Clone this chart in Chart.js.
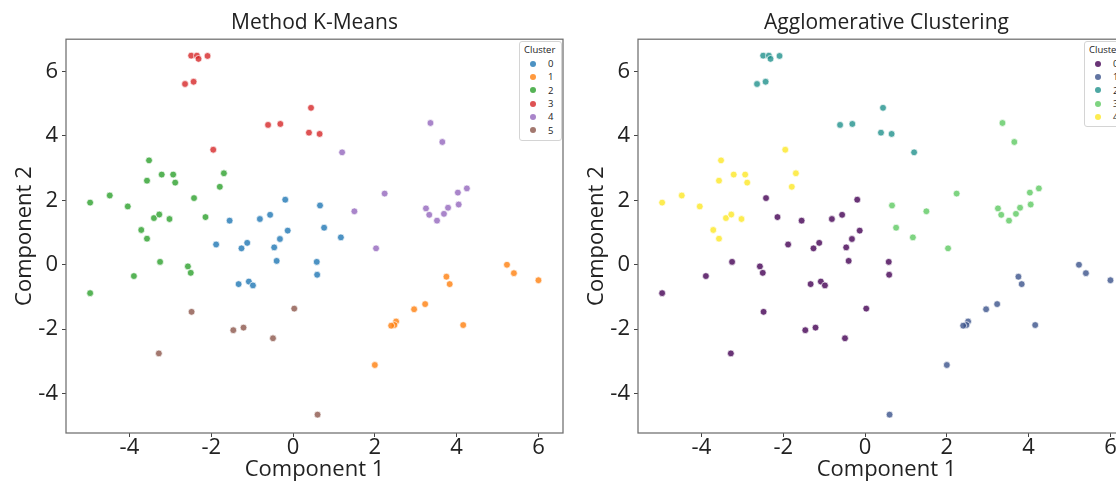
<!DOCTYPE html>
<html lang="en">
<head>
    <meta charset="UTF-8">
    <title>K-Means vs Agglomerative Clustering</title>
    <style>
        body {
            margin: 0;
            width: 1116px;
            height: 484px;
            overflow: hidden;
            position: relative;
            background: #fff;
            font-family: 'Open Sans', sans-serif;
        }

        .panel {
            position: absolute;
            top: 0;
        }

        #kmeansChart { left: 0; }
        #aggloChart { left: 572px; }

        .legend {
            position: absolute;
            top: 41px;
            border: 1px solid #d4d4d4;
            border-radius: 3px;
            background: #fff;
            color: #222;
            font-size: 9.5px;
            padding: 1px 6px 3px 0;
            white-space: nowrap;
        }

        .legend .ltitle {
            height: 14px;
            line-height: 14px;
            padding-left: 4px;
        }

        .legend .row {
            display: flex;
            align-items: center;
            height: 13.3px;
        }

        .legend .dot {
            width: 6px;
            height: 6px;
            border-radius: 50%;
            margin-left: 10px;
            margin-right: 12px;
        }
    </style>
</head>
<body>
    <canvas id="kmeansChart" class="panel" width="575" height="484"></canvas>
    <canvas id="aggloChart" class="panel" width="575" height="484"></canvas>
    <div class="legend" id="kmeansLegend" style="left:519px;"></div>
    <div class="legend" id="aggloLegend" style="left:1084px;"></div>

    <script src="https://cdn.jsdelivr.net/npm/chart.js"></script>
    <script>
        // projected points (Component 1, Component 2)
        const comp1 = [
            -2.49, -2.35, -2.31, -2.09, -2.64, -2.43, -1.95, -0.61, -0.31, 0.44, 0.39, 0.65,
            3.36, 3.65, 1.20, 2.24, 1.50, 3.25, 3.33, 3.52, 3.69, 3.79, 4.05, 4.03, 4.25, 2.03,
            -0.19, 0.66, -1.55, -0.81, -0.56, 0.76, -0.13, -0.32, 1.17, -1.88, -1.12, -1.26, -0.46,
            -0.40, 0.58, 0.59, -1.33, -1.08, -0.98,
            -4.96, -4.48, -4.04, -3.52, -3.57, -3.21, -2.93, -2.88, -1.69, -1.79, -2.42,
            -3.40, -3.27, -3.02, -2.14, -3.71, -3.57, -3.25, -3.89, -2.57, -2.50, -4.96,
            -2.48, -1.46, -1.21, -0.49, 0.03, -3.28, 0.60,
            5.23, 5.40, 6.00, 3.75, 3.83, 3.23, 2.96, 2.52, 2.48, 2.40, 4.16, 2.00
        ];
        const comp2 = [
            6.49, 6.49, 6.39, 6.48, 5.61, 5.68, 3.57, 4.34, 4.37, 4.87, 4.10, 4.06,
            4.40, 3.81, 3.49, 2.21, 1.66, 1.75, 1.55, 1.37, 1.58, 1.77, 1.87, 2.24, 2.37, 0.51,
            2.02, 1.84, 1.37, 1.42, 1.55, 1.15, 1.06, 0.80, 0.85, 0.63, 0.68, 0.51, 0.54,
            0.12, 0.09, -0.31, -0.60, -0.52, -0.64,
            1.93, 2.15, 1.81, 3.24, 2.61, 2.80, 2.80, 2.55, 2.84, 2.42, 2.07,
            1.45, 1.56, 1.42, 1.48, 1.08, 0.81, 0.09, -0.35, -0.05, -0.25, -0.88,
            -1.46, -2.03, -1.95, -2.28, -1.36, -2.75, -4.65,
            0.00, -0.26, -0.48, -0.37, -0.60, -1.22, -1.38, -1.76, -1.87, -1.89, -1.87, -3.11
        ];
        const kmeansLabels = [
            3, 3, 3, 3, 3, 3, 3, 3, 3, 3, 3, 3,
            4, 4, 4, 4, 4, 4, 4, 4, 4, 4, 4, 4, 4, 4,
            0, 0, 0, 0, 0, 0, 0, 0, 0, 0, 0, 0, 0,
            0, 0, 0, 0, 0, 0,
            2, 2, 2, 2, 2, 2, 2, 2, 2, 2, 2,
            2, 2, 2, 2, 2, 2, 2, 2, 2, 2, 2,
            5, 5, 5, 5, 5, 5, 5,
            1, 1, 1, 1, 1, 1, 1, 1, 1, 1, 1, 1
        ];
        const aggloLabels = [
            2, 2, 2, 2, 2, 2, 4, 2, 2, 2, 2, 2,
            3, 3, 2, 3, 3, 3, 3, 3, 3, 3, 3, 3, 3, 3,
            0, 3, 0, 0, 0, 3, 0, 0, 3, 0, 0, 0, 0,
            0, 0, 0, 0, 0, 0,
            4, 4, 4, 4, 4, 4, 4, 4, 4, 4, 0,
            4, 4, 4, 0, 4, 4, 0, 0, 0, 0, 0,
            0, 0, 0, 0, 0, 0, 1,
            1, 1, 1, 1, 1, 1, 1, 1, 1, 1, 1, 1
        ];

        const xTicks = [-4, -2, 0, 2, 4, 6];
        const yTicks = [-4, -2, 0, 2, 4, 6];
        const xLimits = [-5.55, 6.6];
        const yLimits = [-5.22, 7.0];

        const kmeansColors = ['#1f77b4', '#ff7f0e', '#2ca02c', '#d62728', '#9467bd', '#8c564b'];
        const aggloColors = ['#440154', '#3b528b', '#21918c', '#5ec962', '#fde725'];

        Chart.defaults.font.family = "'Open Sans', sans-serif";
        Chart.defaults.color = '#222';

        function withAlpha(hex, a) {
            const n = parseInt(hex.slice(1), 16);
            return `rgba(${(n >> 16) & 255}, ${(n >> 8) & 255}, ${n & 255}, ${a})`;
        }

        // matplotlib style box around the plot area
        const framePlugin = {
            id: 'frame',
            afterDatasetsDraw(chart) {
                const a = chart.chartArea;
                const ctx = chart.ctx;
                ctx.save();
                ctx.strokeStyle = '#6e6e6e';
                ctx.lineWidth = 1.25;
                ctx.strokeRect(a.left, a.top, a.right - a.left, a.bottom - a.top);
                ctx.restore();
            }
        };

        function axis(ticks, limits, titleText, isX) {
            return {
                type: 'linear',
                min: limits[0],
                max: limits[1],
                afterBuildTicks: s => { s.ticks = ticks.map(v => ({ value: v })); },
                afterFit: s => {
                    if (isX) s.height = 51; else s.width = 66;
                },
                ticks: {
                    font: { size: 22 },
                    color: '#222',
                    padding: isX ? -2 : 4,
                    maxRotation: 0,
                    autoSkip: false,
                    callback: v => String(v)
                },
                grid: {
                    display: true,
                    drawOnChartArea: false,
                    drawTicks: true,
                    tickLength: 4,
                    color: '#444'
                },
                border: { display: false },
                title: {
                    display: true,
                    text: titleText,
                    font: { size: 22 },
                    color: '#222',
                    padding: isX ? { top: 0, bottom: 1 } : { top: 12, bottom: 0 }
                }
            };
        }

        function drawPanel(canvasId, legendId, titleText, labels, colors) {
            const datasets = colors.map((c, k) => ({
                label: String(k),
                data: comp1.map((x, i) => ({ x: x, y: comp2[i], k: labels[i] }))
                           .filter(p => p.k === k),
                backgroundColor: withAlpha(c, 0.8),
                borderColor: '#fff',
                borderWidth: 0.7,
                pointRadius: 3.4,
                pointHoverRadius: 3.4
            }));

            new Chart(document.getElementById(canvasId), {
                type: 'scatter',
                data: { datasets: datasets },
                options: {
                    responsive: false,
                    animation: false,
                    devicePixelRatio: 1,
                    layout: { padding: { left: 0, right: 12, top: 0, bottom: 0 } },
                    scales: {
                        x: axis(xTicks, xLimits, 'Component 1', true),
                        y: axis(yTicks, yLimits, 'Component 2', false)
                    },
                    plugins: {
                        legend: { display: false },
                        tooltip: { enabled: false },
                        title: {
                            display: true,
                            text: titleText,
                            fullSize: false,
                            font: { size: 21, weight: 'normal' },
                            color: '#222',
                            padding: { top: 10, bottom: 4 }
                        }
                    }
                },
                plugins: [framePlugin]
            });

            // legend box inside the plot, like seaborn's
            const legend = document.getElementById(legendId);
            let html = '<div class="ltitle">Cluster</div>';
            colors.forEach((c, k) => {
                html += `<div class="row"><span class="dot" style="background:${withAlpha(c, 0.8)}"></span><span>${k}</span></div>`;
            });
            legend.innerHTML = html;
        }

        drawPanel('kmeansChart', 'kmeansLegend', 'Method K-Means', kmeansLabels, kmeansColors);
        drawPanel('aggloChart', 'aggloLegend', 'Agglomerative Clustering', aggloLabels, aggloColors);
    </script>
</body>
</html>
